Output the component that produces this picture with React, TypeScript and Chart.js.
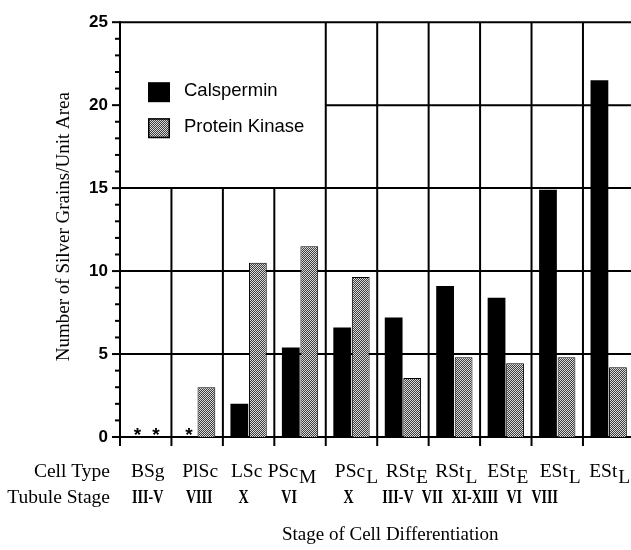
import React, { useEffect, useRef } from "react";
import { Chart, registerables } from "chart.js";

Chart.register(...registerables);

// ---------- data ----------
const cellTypes = ["BSg", "PlSc", "LSc", "PSc", "PSc", "RSt", "RSt", "ESt", "ESt", "ESt"];
const cellSubscripts = ["", "", "", "M", "L", "E", "L", "E", "L", "L"];
const tubuleStages = ["III-V", "VIII", "X", "VI", "X", "III-V", "VII", "XI-XIII", "VI", "VIII"];
const calspermin: (number | null)[] = [null, null, 2.0, 5.4, 6.6, 7.2, 9.1, 8.4, 14.9, 21.5];
const proteinKinase: (number | null)[] = [null, 3.0, 10.5, 11.5, 9.65, 3.55, 4.8, 4.45, 4.8, 4.2];
const yTickValues = [0, 5, 10, 15, 20, 25];
const seriesNames = ["Calspermin", "Protein Kinase"];
const rowTitles = ["Cell Type", "Tubule Stage"];
const yTitle = "Number of Silver Grains/Unit Area";
const xTitle = "Stage of Cell Differentiation";
const notDetectedMark = "*";

// ---------- layout (text nudges, legend box) ----------
const LEGEND_COLS = 4; // legend box spans the first 4 columns
const LEGEND_FLOOR = 15; // and sits above this value
const cellNudge = [2, 3, -2, -8, 5, 4, 2, 2, 3, 1];
const tubuleNudge = [2, 2, -5, -11, -3, -5, -22, -31, -43, -64];
const NUMERAL_SQUEEZE = 0.72;

const SERIF = "'Liberation Serif', 'Times New Roman', serif";
const SANS = "'Liberation Sans', Arial, sans-serif";

function makePattern(): CanvasPattern | string {
  const c = document.createElement("canvas");
  c.width = 2;
  c.height = 2;
  const g = c.getContext("2d");
  if (!g) return "#8c8c8c";
  g.fillStyle = "#3c3c3c";
  g.fillRect(0, 0, 2, 2);
  g.fillStyle = "#dadada";
  g.fillRect(0, 0, 1, 1);
  g.fillRect(1, 1, 1, 1);
  return g.createPattern(c, "repeat") || "#8c8c8c";
}

export default function App() {
  const ref = useRef<HTMLCanvasElement | null>(null);

  useEffect(() => {
    const canvas = ref.current;
    if (!canvas) return;
    const pattern = makePattern();

    const paperPlugin = {
      id: "paper",
      beforeDatasetsDraw(chart: any) {
        const { ctx, chartArea: a } = chart;
        const xs = chart.scales.x;
        const ys = chart.scales.y;
        const n = cellTypes.length;
        const edge = (i: number) => xs.getPixelForValue(i - 0.5);
        const legR = edge(LEGEND_COLS);
        const legB = ys.getPixelForValue(LEGEND_FLOOR);
        ctx.save();
        ctx.strokeStyle = "#000";
        ctx.lineWidth = 2;
        const line = (x1: number, y1: number, x2: number, y2: number) => {
          ctx.beginPath();
          ctx.moveTo(x1, y1);
          ctx.lineTo(x2, y2);
          ctx.stroke();
        };
        for (const v of yTickValues) {
          if (v === ys.min) continue;
          const y = ys.getPixelForValue(v);
          const x0 = v > LEGEND_FLOOR && v < ys.max ? legR : a.left;
          line(x0, y, edge(n), y);
        }
        for (let i = 1; i <= n; i++) {
          const x = edge(i);
          line(x, a.bottom, x, i < LEGEND_COLS ? legB : a.top);
        }
        line(a.left, a.top - 1, a.left, a.bottom + 9);
        line(a.left - 1, a.bottom, edge(n), a.bottom);
        for (let i = 0; i <= n; i++) {
          const x = edge(i);
          line(x, a.bottom, x, a.bottom + 9);
        }
        for (let v = ys.min; v <= ys.max; v++) {
          const y = ys.getPixelForValue(v);
          const len = v % 5 === 0 ? 8 : 5;
          line(a.left - len, y, a.left, y);
        }
        ctx.restore();
      },
      afterDatasetsDraw(chart: any) {
        const { ctx, chartArea: a } = chart;
        const xs = chart.scales.x;
        const ys = chart.scales.y;
        ctx.save();
        ctx.fillStyle = "#000";

        // not-detected asterisks
        ctx.font = `bold 19px ${SANS}`;
        ctx.textAlign = "center";
        ctx.textBaseline = "alphabetic";
        const zero = ys.getPixelForValue(0);
        chart.data.datasets.forEach((ds: any, di: number) => {
          const meta = chart.getDatasetMeta(di);
          ds.data.forEach((v: number | null, i: number) => {
            if (v === null) {
              const el = meta.data[i];
              if (el && isFinite(el.x)) ctx.fillText(notDetectedMark, el.x + 1, zero + 4);
            }
          });
        });

        // legend
        const lx = a.left + 28;
        const lys = [a.top + 60, a.top + 96];
        ctx.textAlign = "left";
        ctx.font = `18.5px ${SANS}`;
        seriesNames.forEach((name, i) => {
          const y = lys[i];
          ctx.fillStyle = i === 0 ? "#000" : (pattern as any);
          ctx.fillRect(lx, y, 22, 20);
          if (i === 1) {
            ctx.strokeStyle = "#000";
            ctx.lineWidth = 1.5;
            ctx.strokeRect(lx + 0.75, y + 0.75, 20.5, 18.5);
          }
          ctx.fillStyle = "#000";
          ctx.fillText(name, lx + 36, y + 14);
        });

        // category rows
        const rowY1 = a.bottom + 40;
        const rowY2 = a.bottom + 66;
        ctx.font = `19.5px ${SERIF}`;
        ctx.textAlign = "right";
        ctx.fillText(rowTitles[0], a.left - 10, rowY1);
        ctx.fillText(rowTitles[1], a.left - 10, rowY2);
        ctx.textAlign = "left";
        cellTypes.forEach((t, i) => {
          const cx = xs.getPixelForValue(i) + cellNudge[i];
          const w1 = ctx.measureText(t).width;
          const sub = cellSubscripts[i];
          const gap = sub ? 1 : 0;
          const w2 = sub ? ctx.measureText(sub).width : 0;
          const x0 = cx - (w1 + gap + w2) / 2;
          ctx.fillText(t, x0, rowY1);
          if (sub) ctx.fillText(sub, x0 + w1 + gap, rowY1 + 6);
        });
        ctx.textAlign = "center";
        ctx.font = `bold 19.5px ${SERIF}`;
        tubuleStages.forEach((t, i) => {
          const cx = xs.getPixelForValue(i) + tubuleNudge[i];
          ctx.save();
          ctx.translate(cx, rowY2);
          ctx.scale(NUMERAL_SQUEEZE, 1);
          ctx.fillText(t, 0, 0);
          ctx.restore();
        });

        // axis titles
        ctx.font = `19px ${SERIF}`;
        ctx.fillText(xTitle, (a.left + a.right) / 2 + 13, a.bottom + 103);
        ctx.translate(64, (a.top + a.bottom) / 2 - 3);
        ctx.rotate(-Math.PI / 2);
        ctx.textBaseline = "middle";
        ctx.fillText(yTitle, 0, 0);
        ctx.restore();
      },
    };

    const chart = new Chart(canvas, {
      type: "bar",
      data: {
        labels: cellTypes.map((c, i) => c + cellSubscripts[i]),
        datasets: [
          {
            label: seriesNames[0],
            data: calspermin,
            backgroundColor: "#000",
            borderWidth: 0,
            categoryPercentage: 0.72,
            barPercentage: 0.96,
          },
          {
            label: seriesNames[1],
            data: proteinKinase,
            backgroundColor: pattern as any,
            borderColor: "#000",
            borderWidth: 1,
            categoryPercentage: 0.72,
            barPercentage: 0.96,
          },
        ],
      },
      options: {
        responsive: false,
        devicePixelRatio: 1,
        animation: false,
        layout: { padding: { top: 19, right: 5.6, bottom: 0, left: 0 } },
        plugins: { legend: { display: false }, tooltip: { enabled: false }, title: { display: false } },
        scales: {
          x: {
            type: "category",
            offset: true,
            grid: { display: false, drawTicks: false },
            border: { display: false },
            ticks: { display: false },
            afterFit: (s: any) => {
              s.height = 113;
            },
          },
          y: {
            type: "linear",
            min: 0,
            max: 25,
            grid: { display: false, drawTicks: false },
            border: { display: false },
            ticks: {
              stepSize: 5,
              padding: 12,
              color: "#000",
              font: { family: SANS, size: 17, weight: "bold" },
            },
            afterFit: (s: any) => {
              s.width = 120;
            },
          },
        },
      },
      plugins: [paperPlugin],
    } as any);

    return () => chart.destroy();
  }, []);

  return (
    <div style={{ position: "absolute", left: 0, top: 0, width: 631, height: 550, overflow: "hidden", background: "#fff" }}>
      <canvas ref={ref} width={640} height={550} style={{ display: "block" }} />
    </div>
  );
}
